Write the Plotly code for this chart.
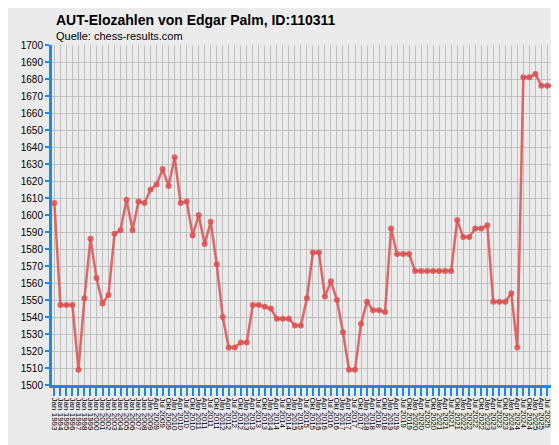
import plotly.graph_objects as go

values = [1607, 1547, 1547, 1547, 1509, 1551, 1586, 1563, 1548, 1553, 1589, 1591, 1609, 1591, 1608, 1607,
          1615, 1618, 1627, 1617, 1634, 1607, 1608, 1588, 1600, 1583, 1596, 1571, 1540, 1522, 1522, 1525,
          1525, 1547, 1547, 1546, 1545, 1539, 1539, 1539, 1535, 1535, 1551, 1578, 1578, 1552, 1561, 1550,
          1531, 1509, 1509, 1536, 1549, 1544, 1544, 1543, 1592, 1577, 1577, 1577, 1567, 1567, 1567, 1567,
          1567, 1567, 1567, 1597, 1587, 1587, 1592, 1592, 1594, 1549, 1549, 1549, 1554, 1522, 1681, 1681,
          1683, 1676, 1676, 1676]
yearly = [f"Jan {y}" for y in range(1993, 2009)]
quarterly = [f"{m} {y}" for y in range(2009, 2026) for m in ["Jan", "Apr", "Jul", "Okt"]]
labels = yearly + quarterly
yticks = list(range(1500, 1701, 10))

fig = go.Figure(go.Scatter(
    x=list(range(len(values))), y=values, mode="lines+markers",
    line=dict(color="rgba(220,80,80,0.85)", width=2.5),
    marker=dict(color="rgba(220,80,80,0.85)", size=6),
))
fig.update_layout(
    width=559, height=445, margin=dict(l=44, r=10, t=37, b=68),
    paper_bgcolor="#ebebeb", plot_bgcolor="#ebebeb", showlegend=False,
    font=dict(family="Liberation Sans, Arial", color="black"),
    annotations=[
        dict(text="<b>AUT-Elozahlen von Edgar Palm, ID:110311</b>", x=46, y=445 - 2, xref="paper", yref="paper",
             showarrow=False, font=dict(size=14), xanchor="left", yanchor="top"),
    ],
)
# place titles in pixel coordinates relative to container
fig.layout.annotations = [
    dict(text="<b>AUT-Elozahlen von Edgar Palm, ID:110311</b>", x=(46 - 44) / 505, y=1 + 35 / 340,
         xref="paper", yref="paper", showarrow=False, font=dict(size=14), xanchor="left", yanchor="top"),
    dict(text="Quelle: chess-results.com", x=(46 - 44) / 505, y=1 + 17 / 340,
         xref="paper", yref="paper", showarrow=False, font=dict(size=11), xanchor="left", yanchor="top"),
]
fig.update_xaxes(
    tickmode="array", tickvals=list(range(len(labels))), ticktext=labels, tickangle=90,
    tickfont=dict(size=8), range=[-0.4, len(values) - 0.4],
    showgrid=True, gridcolor="#c0c0c0", gridwidth=1,
    showline=True, linecolor="#1e88e5", linewidth=3, ticks="outside", tickcolor="#1e88e5",
    ticklen=8, tickwidth=2, zeroline=False,
)
fig.update_yaxes(
    tickmode="array", tickvals=yticks, range=[1500, 1700], tickfont=dict(size=10),
    showgrid=True, gridcolor="#c0c0c0", gridwidth=1,
    showline=True, linecolor="#1e88e5", linewidth=3, ticks="outside", tickcolor="#1e88e5",
    ticklen=4, tickwidth=2, zeroline=False,
)
fig.write_html("out.html")
